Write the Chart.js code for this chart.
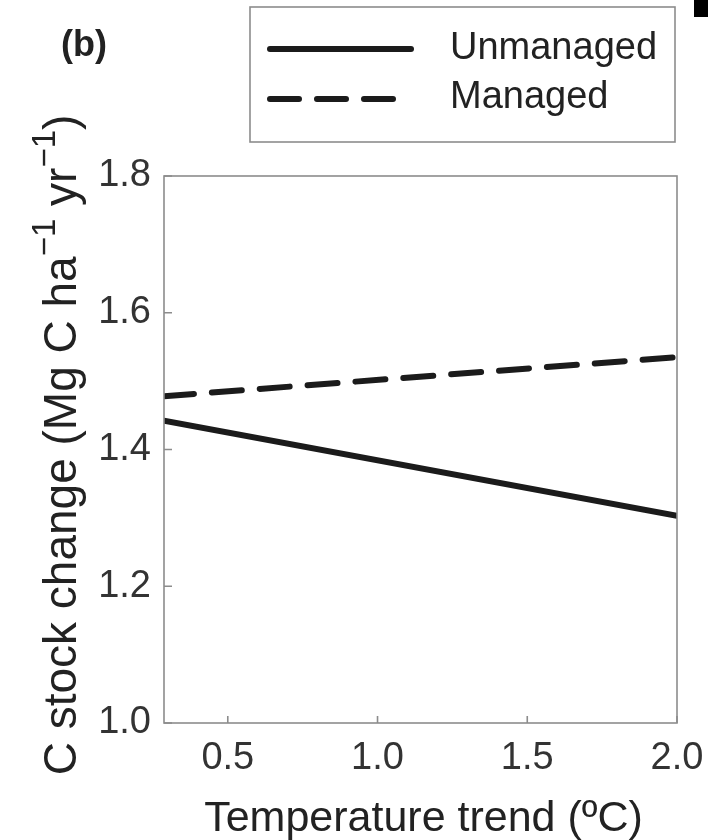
<!DOCTYPE html>
<html>
<head>
<meta charset="utf-8">
<script src="https://cdn.jsdelivr.net/npm/chart.js@4.4.1/dist/chart.umd.min.js"></script>
<style>
  html, body { margin: 0; padding: 0; background: #fff; }
  #wrap { width: 708px; height: 840px; }
</style>
</head>
<body>
<div id="wrap"><canvas id="c" width="708" height="840"></canvas></div>
<script>
// values
const tempTrend = [0.287, 2.0];
const unmanaged = [1.442, 1.303];
const managed = [1.478, 1.535];
const xTicks = [0.5, 1.0, 1.5, 2.0];
const yTicks = [1.0, 1.2, 1.4, 1.6, 1.8];
const seriesNames = ['Unmanaged', 'Managed'];

const ink = '#1b1b1b';
const axisGray = '#8c8c8c';
const fontName = '"Liberation Sans", Arial, sans-serif';

function toPoints(ys) {
  return ys.map((y, i) => ({ x: tempTrend[i], y: y }));
}

// box round the plot, inward ticks, titles, legend, panel label
const decor = {
  id: 'decor',
  afterDraw(chart) {
    const ctx = chart.ctx;
    const a = chart.chartArea;
    const xs = chart.scales.x, ys = chart.scales.y;
    ctx.save();
    ctx.strokeStyle = axisGray;
    ctx.lineWidth = 1.6;
    ctx.strokeRect(a.left, a.top, a.right - a.left, a.bottom - a.top);
    ctx.beginPath();
    xTicks.forEach(v => {
      const px = xs.getPixelForValue(v);
      ctx.moveTo(px, a.bottom);
      ctx.lineTo(px, a.bottom - 7);
    });
    yTicks.forEach(v => {
      const py = ys.getPixelForValue(v);
      ctx.moveTo(a.left, py);
      ctx.lineTo(a.left + 8, py);
    });
    ctx.stroke();

    // x title
    ctx.fillStyle = '#222';
    ctx.font = '43px ' + fontName;
    ctx.textAlign = 'center';
    ctx.textBaseline = 'alphabetic';
    ctx.fillText('Temperature trend (\u00baC)', (a.left + a.right) / 2 + 3, 831);

    // y title with superscripts
    const parts = [
      ['C stock change (Mg C ha', false],
      ['\u22121', true],
      [' yr', false],
      ['\u22121', true],
      [')', false]
    ];
    const big = '46px ' + fontName, small = '33px ' + fontName;
    let total = 0;
    parts.forEach(p => { ctx.font = p[1] ? small : big; total += ctx.measureText(p[0]).width; });
    ctx.translate(76, 445);
    ctx.rotate(-Math.PI / 2);
    ctx.textAlign = 'left';
    let cx = -total / 2;
    parts.forEach(p => {
      ctx.font = p[1] ? small : big;
      ctx.fillText(p[0], cx, p[1] ? -21 : 0);
      cx += ctx.measureText(p[0]).width;
    });
    ctx.setTransform(1, 0, 0, 1, 0, 0);

    // panel label
    ctx.font = 'bold 36px ' + fontName;
    ctx.textAlign = 'center';
    ctx.textBaseline = 'middle';
    ctx.fillText('(b)', 84, 46);

    // legend
    ctx.strokeStyle = axisGray;
    ctx.lineWidth = 1.6;
    ctx.strokeRect(250, 7, 425, 135);
    ctx.strokeStyle = ink;
    ctx.lineWidth = 6;
    ctx.lineCap = 'round';
    ctx.beginPath();
    ctx.moveTo(270, 49); ctx.lineTo(411, 49);
    ctx.stroke();
    ctx.setLineDash([29, 18]);
    ctx.beginPath();
    ctx.moveTo(270, 99); ctx.lineTo(394, 99);
    ctx.stroke();
    ctx.setLineDash([]);
    ctx.font = '38px ' + fontName;
    ctx.textAlign = 'left';
    ctx.textBaseline = 'middle';
    ctx.fillStyle = '#222';
    ctx.fillText(seriesNames[0], 450, 49);
    ctx.fillText(seriesNames[1], 450, 98);

    // small black mark in the corner
    ctx.fillStyle = '#000';
    ctx.fillRect(694, 0, 14, 17);
    ctx.restore();
  }
};

new Chart(document.getElementById('c').getContext('2d'), {
  type: 'line',
  data: {
    datasets: [
      {
        label: seriesNames[0],
        data: toPoints(unmanaged),
        borderColor: ink,
        borderWidth: 6,
        borderCapStyle: 'round',
        pointRadius: 0,
        fill: false
      },
      {
        label: seriesNames[1],
        data: toPoints(managed),
        borderColor: ink,
        borderWidth: 6,
        borderCapStyle: 'round',
        borderDash: [30, 18],
        pointRadius: 0,
        fill: false
      }
    ]
  },
  options: {
    responsive: false,
    animation: false,
    layout: { padding: { top: 176, right: 31, left: 0, bottom: 0 } },
    plugins: {
      legend: { display: false },
      tooltip: { enabled: false }
    },
    scales: {
      x: {
        type: 'linear',
        min: 0.287,
        max: 2.0,
        grid: { display: false },
        border: { display: false },
        afterBuildTicks: s => { s.ticks = xTicks.map(v => ({ value: v })); },
        afterFit: s => { s.height = 117; s.paddingLeft = 0; s.paddingRight = 0; },
        ticks: {
          padding: 5,
          color: '#333',
          font: { family: fontName, size: 38 },
          maxRotation: 0,
          callback: v => Number(v).toFixed(1)
        }
      },
      y: {
        min: 1.0,
        max: 1.8,
        grid: { display: false },
        border: { display: false },
        afterBuildTicks: s => { s.ticks = yTicks.map(v => ({ value: v })); },
        afterFit: s => { s.width = 164; s.paddingTop = 0; s.paddingBottom = 0; },
        ticks: {
          padding: 5,
          color: '#333',
          font: { family: fontName, size: 38 },
          callback: v => Number(v).toFixed(1)
        }
      }
    }
  },
  plugins: [decor]
});
</script>
</body>
</html>
